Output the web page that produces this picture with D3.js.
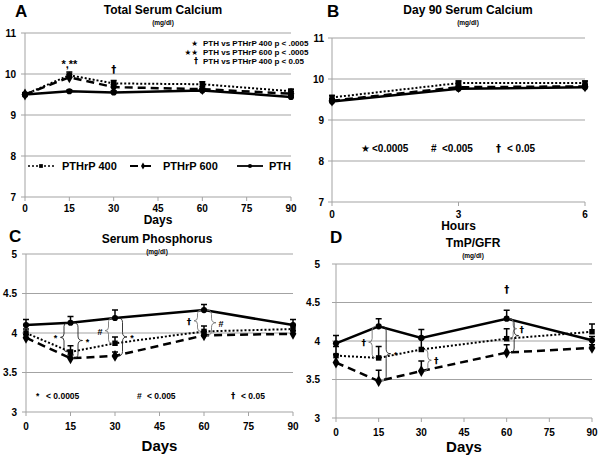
<!DOCTYPE html>
<html><head><meta charset="utf-8">
<script src="https://cdn.jsdelivr.net/npm/d3@7"></script>
<style>
body{margin:0;background:#fff}
text{font-family:"Liberation Sans",Arial,sans-serif;font-weight:bold;fill:#000}
text.dg{font-family:"DejaVu Sans",sans-serif}
</style>
</head><body>
<svg id="chart" width="602" height="457"></svg>
<script>
// ---------- DATA ----------
const days = [0, 15, 30, 60, 90];
const hours = [0, 3, 6];
const dayTicks = [0, 15, 30, 45, 60, 75, 90];
const hourTicks = [0, 3, 6];
const caTicks = [7, 8, 9, 10, 11];
const phTicks = [3, 3.5, 4, 4.5, 5];
const legendNames = ["PTHrP 400", "PTHrP 600", "PTH"];

// A: Total serum calcium (mg/dl)
const caP400 = [9.5, 9.97, 9.77, 9.75, 9.58];
const caP400Err = [0.04, 0.08, 0.07, 0.06, 0.05];
const caP600 = [9.5, 9.92, 9.68, 9.63, 9.52];
const caP600Err = [0.04, 0.07, 0.06, 0.05, 0.05];
const caPTH = [9.5, 9.58, 9.55, 9.6, 9.44];
const caPTHErr = [0.03, 0.03, 0.04, 0.04, 0.04];

// B: Day 90 serum calcium (mg/dl)
const d90P400 = [9.55, 9.9, 9.9];
const d90P600 = [9.47, 9.8, 9.82];
const d90PTH = [9.45, 9.76, 9.8];
const d90Err = [0.05, 0.05, 0.05];

// C: Serum phosphorus (mg/dl)
const phP400 = [4.0, 3.76, 3.87, 4.02, 4.05];
const phP400Err = [0.05, 0.08, 0.08, 0.07, 0.05];
const phP600 = [3.94, 3.68, 3.71, 3.97, 3.99];
const phP600Err = [0.04, 0.04, 0.05, 0.05, 0.04];
const phPTH = [4.1, 4.13, 4.19, 4.29, 4.1];
const phPTHErr = [0.07, 0.08, 0.1, 0.07, 0.07];

// D: TmP/GFR (mg/dl)
const tmP400 = [3.81, 3.78, 3.89, 4.03, 4.12];
const tmP400Err = [0.12, 0.15, 0.14, 0.13, 0.1];
const tmP600 = [3.72, 3.48, 3.61, 3.85, 3.91];
const tmP600Err = [0.1, 0.14, 0.13, 0.1, 0.04];
const tmPTH = [3.97, 4.19, 4.04, 4.29, 4.01];
const tmPTHErr = [0.1, 0.1, 0.11, 0.11, 0.05];

// significance braces
const phBraces = [
  {day: 15, a: "PTH", b: "P400", side: -1, label: "*"},
  {day: 15, a: "PTH", b: "P600", side: 1, label: "*"},
  {day: 30, a: "PTH", b: "P400", side: -1, label: "#"},
  {day: 30, a: "PTH", b: "P600", side: 1, label: "*"},
  {day: 60, a: "PTH", b: "P400", side: -1, label: "\u2020"},
  {day: 60, a: "PTH", b: "P600", side: 1, label: "#"}
];
const tmBraces = [
  {day: 15, a: "PTH", b: "P400", side: -1, label: "\u2020"},
  {day: 15, a: "PTH", b: "P600", side: 1, label: "*"},
  {day: 30, a: "P400", b: "P600", side: 1, label: "\u2020"},
  {day: 60, a: "PTH", b: "P400", side: 1, label: "\u2020"},
  {day: 60, a: "PTH", b: "P600", side: 1, label: ""}
];

// ---------- DRAW ----------
const svg = d3.select("#chart");
const GRID = "#a3a3a3";
const DAG = "\u2020";
const STAR = "\u2605";
const styles = {
  P400: {dash: "2,2", width: 2, sym: d3.symbolSquare, size: 30},
  P600: {dash: "8,5", width: 2.5, sym: d3.symbolDiamond, size: 40},
  PTH:  {dash: null, width: 2.5, sym: d3.symbolCircle, size: 30}
};

function txt(g, x, y, s, size, anchor) {
  return g.append("text").attr("x", x).attr("y", y).attr("text-anchor", anchor || "start")
    .attr("class", s === DAG || s.indexOf(STAR) >= 0 ? "dg" : null).style("font-size", size + "px").text(s);
}

function panel(o) {
  const g = svg.append("g");
  const x = d3.scaleLinear().domain(o.xDomain).range(o.xRange);
  const y = d3.scaleLinear().domain(o.yDomain).range(o.yRange);
  g.selectAll(".grid").data(o.yTicks).join("line")
    .attr("x1", o.xRange[0] - 4).attr("x2", o.xRange[1])
    .attr("y1", d => y(d)).attr("y2", d => y(d))
    .attr("stroke", GRID).attr("stroke-width", 1);
  g.append("line").attr("x1", o.xRange[0]).attr("x2", o.xRange[0])
    .attr("y1", o.yRange[0]).attr("y2", o.yRange[1]).attr("stroke", GRID);
  g.selectAll(".xt").data(o.xTicks).join("line")
    .attr("x1", d => x(d)).attr("x2", d => x(d))
    .attr("y1", o.yRange[0]).attr("y2", o.yRange[0] + 4).attr("stroke", GRID);
  g.selectAll(".xl").data(o.xTicks).join("text")
    .attr("x", d => x(d)).attr("y", o.yRange[0] + o.xLabOff)
    .attr("text-anchor", "middle").style("font-size", "10px").text(d => d);
  g.selectAll(".yl").data(o.yTicks).join("text")
    .attr("x", o.xRange[0] - o.yLabOff).attr("y", d => y(d) + 3.5)
    .attr("text-anchor", "end").style("font-size", "10px").text(d => d);
  txt(g, (o.xRange[0] + o.xRange[1]) / 2, o.axisTitleY, o.axisTitle, o.axisTitleSize, "middle");
  txt(g, o.titleX, o.titleY, o.title, 12, "middle");
  txt(g, o.titleX, o.titleY + 11, "(mg/dl)", 6.5, "middle");
  txt(g, o.letterX, o.letterY, o.letter, 17);
  const line = d3.line().x(d => x(d[0])).y(d => y(d[1]));
  o.series.forEach(s => {
    const st = styles[s.key];
    const pts = o.xs.map((v, i) => [v, s.vals[i], s.err ? s.err[i] : 0]);
    g.append("path").attr("d", line(pts)).attr("fill", "none").attr("stroke", "#000")
      .attr("stroke-width", st.width).attr("stroke-dasharray", st.dash);
    if (s.err) {
      g.selectAll(null).data(pts).join("path")
        .attr("d", d => `M${x(d[0])},${y(d[1])}V${y(d[1] + d[2])}M${x(d[0]) - 3},${y(d[1] + d[2])}h6`)
        .attr("stroke", "#000").attr("stroke-width", 1.5).attr("fill", "none");
    }
    g.selectAll(null).data(pts).join("path")
      .attr("transform", d => `translate(${x(d[0])},${y(d[1])})`)
      .attr("d", d3.symbol().type(st.sym).size(st.size)).attr("fill", "#000");
  });
  return {g, x, y};
}

function brace(g, x0, ya, yb, dir, w, color) {
  const y1 = Math.min(ya, yb), y2 = Math.max(ya, yb), ym = (y1 + y2) / 2, h = w / 2;
  const xm = x0 + dir * h, xt = x0 + dir * w;
  const r = Math.min(h, (y2 - y1) / 4);
  g.append("path").attr("d",
    `M${x0},${y1}Q${xm},${y1} ${xm},${y1 + r}L${xm},${ym - r}Q${xm},${ym} ${xt},${ym}` +
    `Q${xm},${ym} ${xm},${ym + r}L${xm},${y2 - r}Q${xm},${y2} ${x0},${y2}`)
    .attr("fill", "none").attr("stroke", color).attr("stroke-width", 0.9);
}

// ---- Panel A ----
const A = panel({
  xDomain: [0, 90], xRange: [25, 291], yDomain: [7, 11], yRange: [197, 33],
  xTicks: dayTicks, yTicks: caTicks, xs: days, xLabOff: 15, yLabOff: 9,
  axisTitle: "Days", axisTitleY: 224, axisTitleSize: 12,
  title: "Total Serum Calcium", titleX: 163, titleY: 14, letter: "A", letterX: 15, letterY: 17,
  series: [
    {key: "P400", vals: caP400, err: caP400Err},
    {key: "P600", vals: caP600, err: caP600Err},
    {key: "PTH", vals: caPTH, err: caPTHErr}
  ]
});
txt(A.g, A.x(15), 68, "*,**", 11, "middle");
txt(A.g, A.x(30), 73, DAG, 10, "middle");
[[STAR, "PTH vs PTHrP 400 p < .0005", 46], [STAR + STAR, "PTH vs PTHrP 600 p < .0005", 55], [DAG, "PTH vs PTHrP 400 p < 0.05", 64]]
  .forEach(r => {
    txt(A.g, 203, r[2], r[1], 8);
    txt(A.g, 198, r[2], r[0], r[0] === DAG ? 8 : 7.5, "end");
  });
const legY = 166;
[{key: "P400", x0: 28, tx: 62}, {key: "P600", x0: 130, tx: 163}, {key: "PTH", x0: 237, tx: 269}]
  .forEach((l, i) => {
    const st = styles[l.key];
    A.g.append("line").attr("x1", l.x0).attr("x2", l.x0 + 26).attr("y1", legY).attr("y2", legY)
      .attr("stroke", "#000").attr("stroke-width", st.width - 0.7).attr("stroke-dasharray", st.dash);
    A.g.append("path").attr("transform", `translate(${l.x0 + 13},${legY})`)
      .attr("d", d3.symbol().type(st.sym).size(14)).attr("fill", "#000");
    txt(A.g, l.tx, legY + 4, legendNames[i], 11);
  });

// ---- Panel B ----
const B = panel({
  xDomain: [0, 6], xRange: [332, 585], yDomain: [7, 11], yRange: [202, 38],
  xTicks: hourTicks, yTicks: caTicks, xs: hours, xLabOff: 16, yLabOff: 8,
  axisTitle: "Hours", axisTitleY: 230, axisTitleSize: 12,
  title: "Day 90 Serum Calcium", titleX: 468, titleY: 14, letter: "B", letterX: 327, letterY: 17,
  series: [
    {key: "P400", vals: d90P400, err: d90Err},
    {key: "P600", vals: d90P600, err: d90Err},
    {key: "PTH", vals: d90PTH, err: d90Err}
  ]
});
[[STAR, "<0.0005", 361], ["#", "<0.005", 431], [DAG, "< 0.05", 496]].forEach(r => {
  txt(B.g, r[2], 152, r[0], 10);
  txt(B.g, r[2] + 11, 152, r[1], 10);
});

// ---- Panel C ----
const C = panel({
  xDomain: [0, 90], xRange: [26, 293], yDomain: [3, 5], yRange: [412, 254],
  xTicks: dayTicks, yTicks: phTicks, xs: days, xLabOff: 18, yLabOff: 9,
  axisTitle: "Days", axisTitleY: 451, axisTitleSize: 15,
  title: "Serum Phosphorus", titleX: 157, titleY: 243, letter: "C", letterX: 9, letterY: 242,
  series: [
    {key: "P400", vals: phP400, err: phP400Err},
    {key: "P600", vals: phP600, err: phP600Err},
    {key: "PTH", vals: phPTH, err: phPTHErr}
  ]
});
[["*", "< 0.0005", 36], ["#", "< 0.005", 137], [DAG, "< 0.05", 231]].forEach(r => {
  txt(C.g, r[2], 399, r[0], 8.5);
  txt(C.g, r[2] + 10, 399, r[1], 8.5);
});

// ---- Panel D ----
const D = panel({
  xDomain: [0, 90], xRange: [336, 592], yDomain: [3, 5], yRange: [418, 264],
  xTicks: dayTicks, yTicks: phTicks, xs: days, xLabOff: 18, yLabOff: 16,
  axisTitle: "Days", axisTitleY: 452, axisTitleSize: 15,
  title: "TmP/GFR", titleX: 473, titleY: 247, letter: "D", letterX: 330, letterY: 243,
  series: [
    {key: "P400", vals: tmP400, err: tmP400Err},
    {key: "P600", vals: tmP600, err: tmP600Err},
    {key: "PTH", vals: tmPTH, err: tmPTHErr}
  ]
});
txt(D.g, D.x(60), 293, DAG, 10, "middle");

function drawBraces(P, list, data) {
  list.forEach(b => {
    const i = days.indexOf(b.day);
    const ya = P.y(data[b.a][i]), yb = P.y(data[b.b][i]);
    const x0 = P.x(b.day) + b.side * 3;
    const w = b.a === "PTH" && b.b === "P600" ? 9 : 7;
    brace(P.g, x0, ya, yb, b.side, w, b.label === "#" || b.label === DAG ? "#777" : "#222");
    if (b.label) txt(P.g, x0 + b.side * (w + 5), (ya + yb) / 2 + 4, b.label, 9, "middle");
  });
}
drawBraces(C, phBraces, {PTH: phPTH, P400: phP400, P600: phP600});
drawBraces(D, tmBraces, {PTH: tmPTH, P400: tmP400, P600: tmP600});
</script>
</body></html>
